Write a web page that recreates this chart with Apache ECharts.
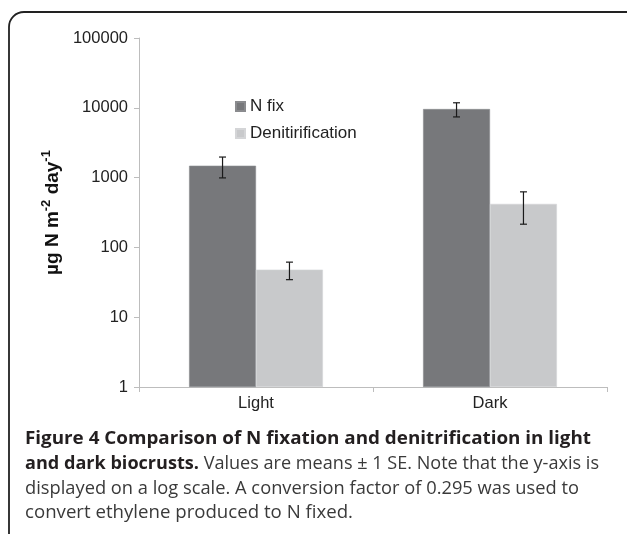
<!DOCTYPE html>
<html>
<head>
<meta charset="utf-8">
<script src="https://cdn.jsdelivr.net/npm/echarts@6/dist/echarts.min.js"></script>
<style>
html,body{margin:0;padding:0;background:#fff;}
#chart{width:627px;height:534px;}
</style>
</head>
<body>
<div id="chart"></div>
<script>
const categories = ['Light', 'Dark'];
const seriesNames = ['N fix', 'Denitirification'];
const nFix = [1480, 9600];
const nFixSE = [490, 2200];
const denit = [48, 420];
const denitSE = [13.5, 205];
const yTicks = [1, 10, 100, 1000, 10000, 100000];
const captionLines = [
  [['b', 'Figure 4 Comparison of N fixation and denitrification in light']],
  [['b', 'and dark biocrusts.'], ['r', ' Values are means \u00b1 1 SE. Note that the y-axis is']],
  [['r', 'displayed on a log scale. A conversion factor of 0.295 was used to']],
  [['r', 'convert ethylene produced to N fixed.']]
];

const FONT = '"Liberation Sans", Arial, sans-serif';
const CAPFONT = '"Open Sans", "Noto Sans", sans-serif';
const CAP_SIZE = 18;

const chart = echarts.init(document.getElementById('chart'), null, {renderer: 'canvas'});

const ctx = document.createElement('canvas').getContext('2d');
function lineWidth(parts) {
  let w = 0;
  parts.forEach(p => {
    ctx.font = (p[0] === 'b' ? 'bold ' : '') + CAP_SIZE + 'px ' + CAPFONT;
    w += ctx.measureText(p[1]).width;
  });
  return w;
}
const capLeft = 25;
const capRight = [591, 599, 579, 353];
const capY = [439, 464, 489, 513];

const captionGraphics = captionLines.map((parts, i) => ({
  type: 'text',
  x: capLeft,
  y: capY[i],
  scaleX: (capRight[i] - capLeft) / lineWidth(parts),
  style: {
    text: parts.map(p => '{' + p[0] + '|' + p[1] + '}').join(''),
    rich: {
      b: {fontFamily: CAPFONT, fontSize: CAP_SIZE, fontWeight: 'bold', fill: '#231f20', color: '#231f20'},
      r: {fontFamily: CAPFONT, fontSize: CAP_SIZE, fontWeight: 'normal', fill: '#3a3a3a', color: '#3a3a3a'}
    },
    verticalAlign: 'middle',
    textVerticalAlign: 'middle'
  }
}));

function errData(vals, se) {
  return vals.map((v, i) => [i, v, se[i]]);
}

function errRender(sign) {
  return function (params, api) {
    const i = api.value(0);
    const v = api.value(1);
    const s = api.value(2);
    const c0 = api.coord([0, v])[0];
    const c1 = api.coord([1, v])[0];
    const band = c1 - c0;
    const x = api.coord([i, v])[0] + sign * band * 0.143;
    const yTop = api.coord([i, v + s])[1];
    const yBot = api.coord([i, v - s])[1];
    const hw = 3.5;
    const st = {stroke: '#1a1a1a', lineWidth: 1.2};
    return {
      type: 'group',
      children: [
        {type: 'line', shape: {x1: x, y1: yTop, x2: x, y2: yBot}, style: st},
        {type: 'line', shape: {x1: x - hw, y1: yTop, x2: x + hw, y2: yTop}, style: st},
        {type: 'line', shape: {x1: x - hw, y1: yBot, x2: x + hw, y2: yBot}, style: st}
      ]
    };
  };
}

const option = {
  backgroundColor: '#ffffff',
  animation: false,
  grid: {left: 139, right: 20, top: 38, bottom: 147, containLabel: false},
  legend: {
    data: seriesNames,
    orient: 'vertical',
    left: 235,
    top: 98,
    padding: 0,
    itemWidth: 9,
    itemHeight: 9,
    itemGap: 10,
    icon: 'rect',
    textStyle: {fontFamily: FONT, fontSize: 17, color: '#222'},
    selectedMode: false
  },
  xAxis: {
    type: 'category',
    data: categories,
    axisLine: {lineStyle: {color: '#bdbdbd', width: 1}},
    axisTick: {show: true, length: 5, lineStyle: {color: '#bdbdbd'}},
    axisLabel: {fontFamily: FONT, fontSize: 16.5, color: '#222', margin: 8}
  },
  yAxis: {
    type: 'log',
    logBase: 10,
    min: yTicks[0],
    max: yTicks[yTicks.length - 1],
    name: '{a|\u00b5g N m}{s|-2}{a| day}{s|-1}',
    nameLocation: 'middle',
    nameGap: 76,
    nameTextStyle: {
      rich: {
        a: {fontFamily: FONT, fontSize: 19, fontWeight: 'bold', color: '#111', verticalAlign: 'bottom', lineHeight: 24},
        s: {fontFamily: FONT, fontSize: 13, fontWeight: 'bold', color: '#111', verticalAlign: 'bottom', lineHeight: 24, padding: [0, 0, 9, 0]}
      }
    },
    axisLine: {show: true, lineStyle: {color: '#bdbdbd', width: 1}},
    axisTick: {show: true, length: 5, lineStyle: {color: '#bdbdbd'}},
    axisLabel: {
      fontFamily: FONT, fontSize: 16.5, color: '#222', margin: 11,
      formatter: function (v) { return String(Math.round(v)); }
    },
    splitLine: {show: false},
    minorTick: {show: false}
  },
  series: [
    {
      name: seriesNames[0],
      type: 'bar',
      data: nFix,
      barWidth: '28.6%',
      barGap: '0%',
      itemStyle: {color: '#77787b', borderColor: '#8a8b8e', borderWidth: 0.6}
    },
    {
      name: seriesNames[1],
      type: 'bar',
      data: denit,
      barWidth: '28.6%',
      barGap: '0%',
      itemStyle: {color: '#c8c9cb', borderColor: '#d4d5d7', borderWidth: 0.6}
    },
    {
      type: 'custom',
      name: 'errNfix',
      data: errData(nFix, nFixSE),
      renderItem: errRender(-1),
      z: 10,
      silent: true
    },
    {
      type: 'custom',
      name: 'errDenit',
      data: errData(denit, denitSE),
      renderItem: errRender(1),
      z: 10,
      silent: true
    }
  ],
  graphic: [
    {
      type: 'rect',
      shape: {x: 9, y: 12, width: 640, height: 620, r: 15},
      style: {fill: 'none', stroke: '#222', lineWidth: 1.8},
      silent: true
    }
  ].concat(captionGraphics)
};

chart.setOption(option);
</script>
</body>
</html>
